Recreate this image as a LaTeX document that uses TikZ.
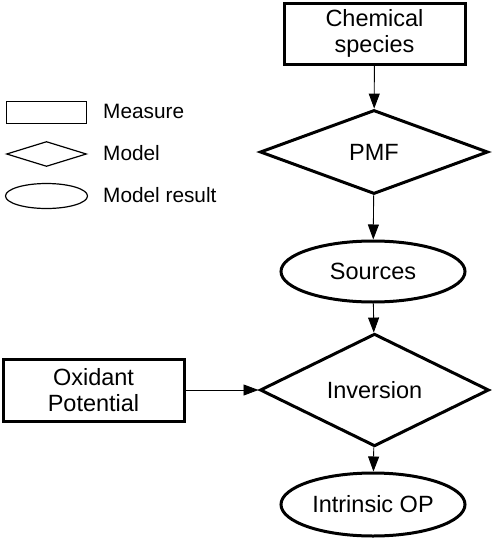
\documentclass[tikz,border=0pt]{standalone}
\usepackage{fontspec}
\setmainfont{Liberation Sans}
\usetikzlibrary{shapes.geometric,arrows.meta}
\tikzset{
  mainfont/.style={font=\fontsize{23.5}{26}\selectfont, align=center},
  legfont/.style={font=\fontsize{20.8}{24}\selectfont, anchor=west, inner sep=0pt},
  measurebox/.style={draw, line width=3pt, rectangle, inner sep=0pt, mainfont},
  modelbox/.style={draw, line width=3pt, diamond, inner sep=0pt, mainfont},
  resultbox/.style={draw, line width=3pt, ellipse, inner sep=0pt, mainfont},
  legshape/.style={draw, line width=1.2pt, inner sep=0pt},
  arr/.style={line width=0.9pt, -{Triangle[length=15pt,width=11pt]}},
}
\begin{document}
\begin{tikzpicture}[x=1pt,y=-1pt]
\useasboundingbox (0,0) rectangle (491,538);
% main flow
\node[measurebox, minimum width=181, minimum height=61] (chem) at (374.5,33.5) {Chemical\\species};
\node[modelbox, minimum width=228, minimum height=84] (pmf) at (374,152) {PMF};
\node[resultbox, minimum width=184, minimum height=61] (src) at (373,271.5) {Sources};
\node[modelbox, minimum width=229, minimum height=84] (inv) at (374.5,390) {Inversion};
\node[measurebox, minimum width=181, minimum height=62] (ox) at (93.5,390) {Oxidant\\Potential};
\node[resultbox, minimum width=184, minimum height=63] (iop) at (373,504.5) {Intrinsic OP};
\draw[arr] (chem) -- (pmf);
\draw[arr] (pmf) -- (src);
\draw[arr] (src) -- (inv);
\draw[arr] (ox.east) -- (inv.west);
\draw[arr] (inv) -- (iop);
% legend
\node[legshape, rectangle, minimum width=80, minimum height=22] (lm) at (46.5,112.5) {};
\node[legshape, diamond, minimum width=80, minimum height=25] (ld) at (46.5,154) {};
\node[legshape, ellipse, minimum width=82, minimum height=25] (le) at (46.5,196) {};
\node[legfont] (tm) at (103,111) {Measure};
\node[legfont] (td) at (103,153) {Model};
\node[legfont] (te) at (103,195) {Model result};
\end{tikzpicture}
\end{document}
